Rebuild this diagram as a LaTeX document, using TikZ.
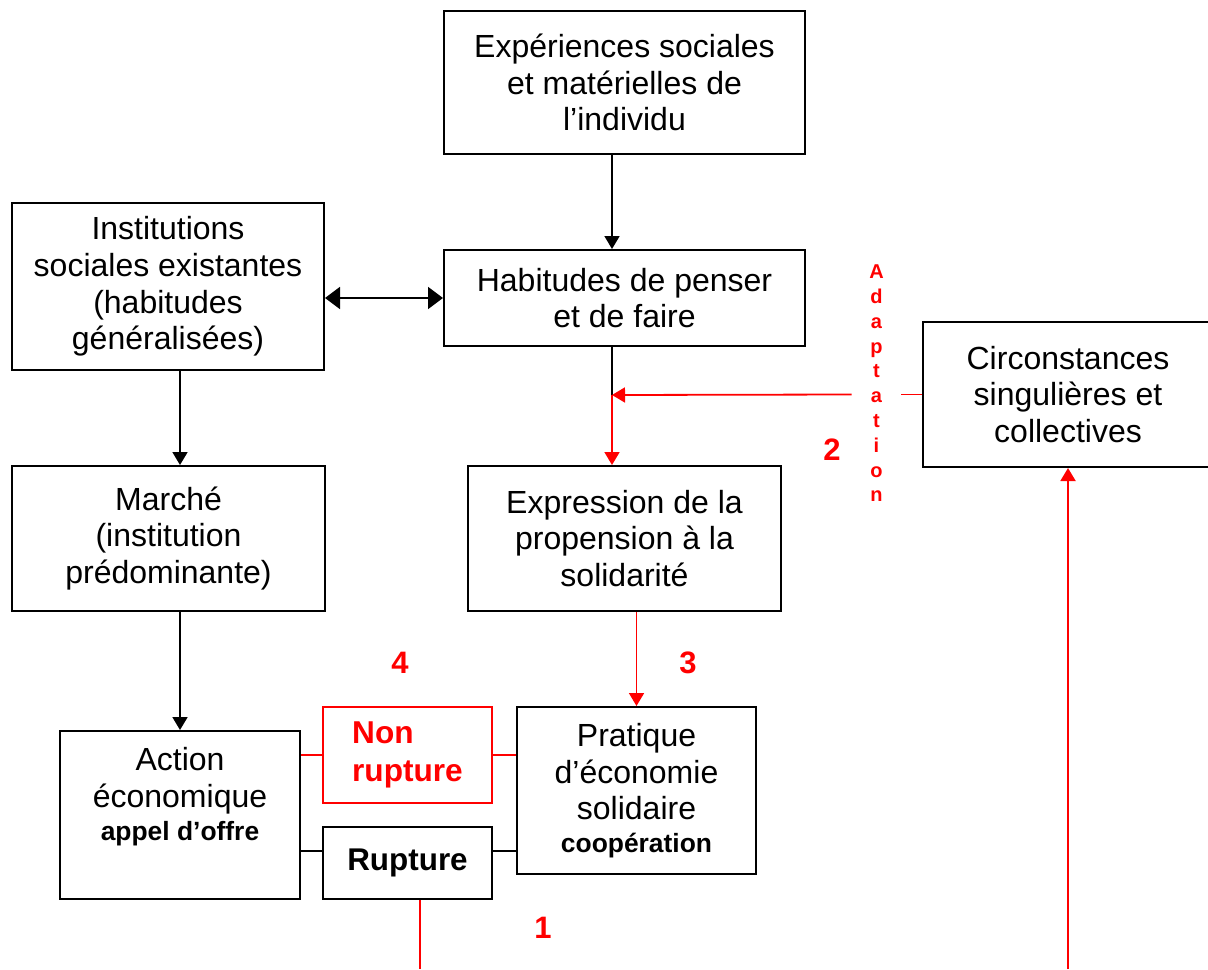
\documentclass[tikz,border=0pt]{standalone}
\usepackage{fontspec}
\setmainfont{Liberation Sans}
\usetikzlibrary{arrows.meta}
\newcommand{\txt}{\fontsize{16}{18.35}\selectfont}
\newcommand{\subtxt}[1]{{\fontsize{13.2}{14}\selectfont\bfseries #1}}

\begin{document}
\begin{tikzpicture}[
    x=0.5pt, y=-0.5pt,
    box/.style={draw, line width=1pt, inner sep=0pt, align=center, font=\txt},
    arrow/.style={-{Triangle[length=6.5pt, width=7.5pt]}, line width=0.9pt},
    redarrow/.style={arrow, red},
    link/.style={line width=0.8pt},
    num/.style={red, font=\fontsize{15.5}{18}\selectfont\bfseries}
]
\useasboundingbox (0,0) rectangle (1208,969);

\node[box, minimum width=180.5pt, minimum height=71.5pt] (exp) at (624.5,82.5) {Expériences sociales\\et matérielles de\\l’individu};
\node[box, minimum width=156pt, minimum height=83.5pt] (inst) at (168,286.5) {Institutions\\sociales existantes\\(habitudes\\généralisées)};
\node[box, minimum width=180.5pt, minimum height=48pt] (habi) at (624.5,298) {Habitudes de penser\\et de faire};
\node[box, minimum width=145pt, minimum height=72.5pt] (circ) at (1068,394.5) {Circonstances\\singulières et\\collectives};
\node[box, minimum width=156.5pt, minimum height=72.5pt] (marche) at (168.5,538.5) {Marché\\(institution\\prédominante)};
\node[box, minimum width=156.5pt, minimum height=72.5pt] (expr) at (624.5,538.5) {Expression de la\\propension à la\\solidarité};
\node[box, minimum width=120pt, minimum height=84pt] (action) at (180,815) {};
\node[font=\txt, align=center, inner sep=0pt] (actiontext) at (180,797) {Action\\économique\\[-1.8pt]\subtxt{appel d’offre}};
\node[box, draw=red, text=red, minimum width=84.5pt, minimum height=48pt, align=left,
      font=\fontsize{15.8}{19}\selectfont\bfseries] (nonrup) at (407.5,755) {Non\\rupture};
\node[box, minimum width=84.5pt, minimum height=36pt, font=\fontsize{15.7}{17}\selectfont\bfseries] (rupt) at (407.5,863) {Rupture};
\node[box, minimum width=119.5pt, minimum height=83.5pt] (prat) at (636.5,790.5) {Pratique\\d’économie\\solidaire\\[-2pt]\subtxt{coopération}};

% adaptation, written downwards
\node[red, font=\fontsize{10}{12.4}\selectfont\bfseries, align=center, minimum width=24.5pt, inner sep=0pt]
    (adapt) at (876.5,383.5) {A\\d\\a\\p\\t\\a\\t\\i\\o\\n};

\coordinate (junc) at (612,395);
\coordinate (ruptlvl) at (0,851);
\coordinate (ruptend) at (420,969);
\coordinate (circstart) at (1068,969);

\draw[arrow] (exp.south -| junc) -- (habi.north -| junc);
\draw[{Triangle[length=7.5pt, width=11pt]}-{Triangle[length=7.5pt, width=11pt]}, line width=0.9pt]
    (inst.east |- habi) -- (habi.west);
\draw[arrow] (inst.south -| action) -- (marche.north -| action);
\draw[arrow] (marche.south -| action) -- (action.north);
\draw[line width=0.9pt] (habi.south -| junc) -- (junc);
\draw[redarrow] (junc) -- (expr.north -| junc);
\draw[red, line width=0.9pt] (circ.west) -- (circ.west -| adapt.east);
\draw[redarrow] (circ.west -| adapt.west) -- (junc);
\draw[redarrow] (expr.south -| prat) -- (prat.north);

\draw[link, red] (action.east |- nonrup) -- (nonrup.west);
\draw[link, red] (nonrup.east) -- (prat.west |- nonrup);
\draw[link] (action.east |- ruptlvl) -- (rupt.west |- ruptlvl);
\draw[link] (rupt.east |- ruptlvl) -- (prat.west |- ruptlvl);
\draw[link, red] (rupt.south -| ruptend) -- (ruptend);
\draw[redarrow] (circstart) -- (circ.south);

\foreach \n/\x/\y in {1/543/928, 2/832/450, 3/688/663, 4/400/663}
    \node[num] (num\n) at (\x,\y) {\n};

\end{tikzpicture}
\end{document}
